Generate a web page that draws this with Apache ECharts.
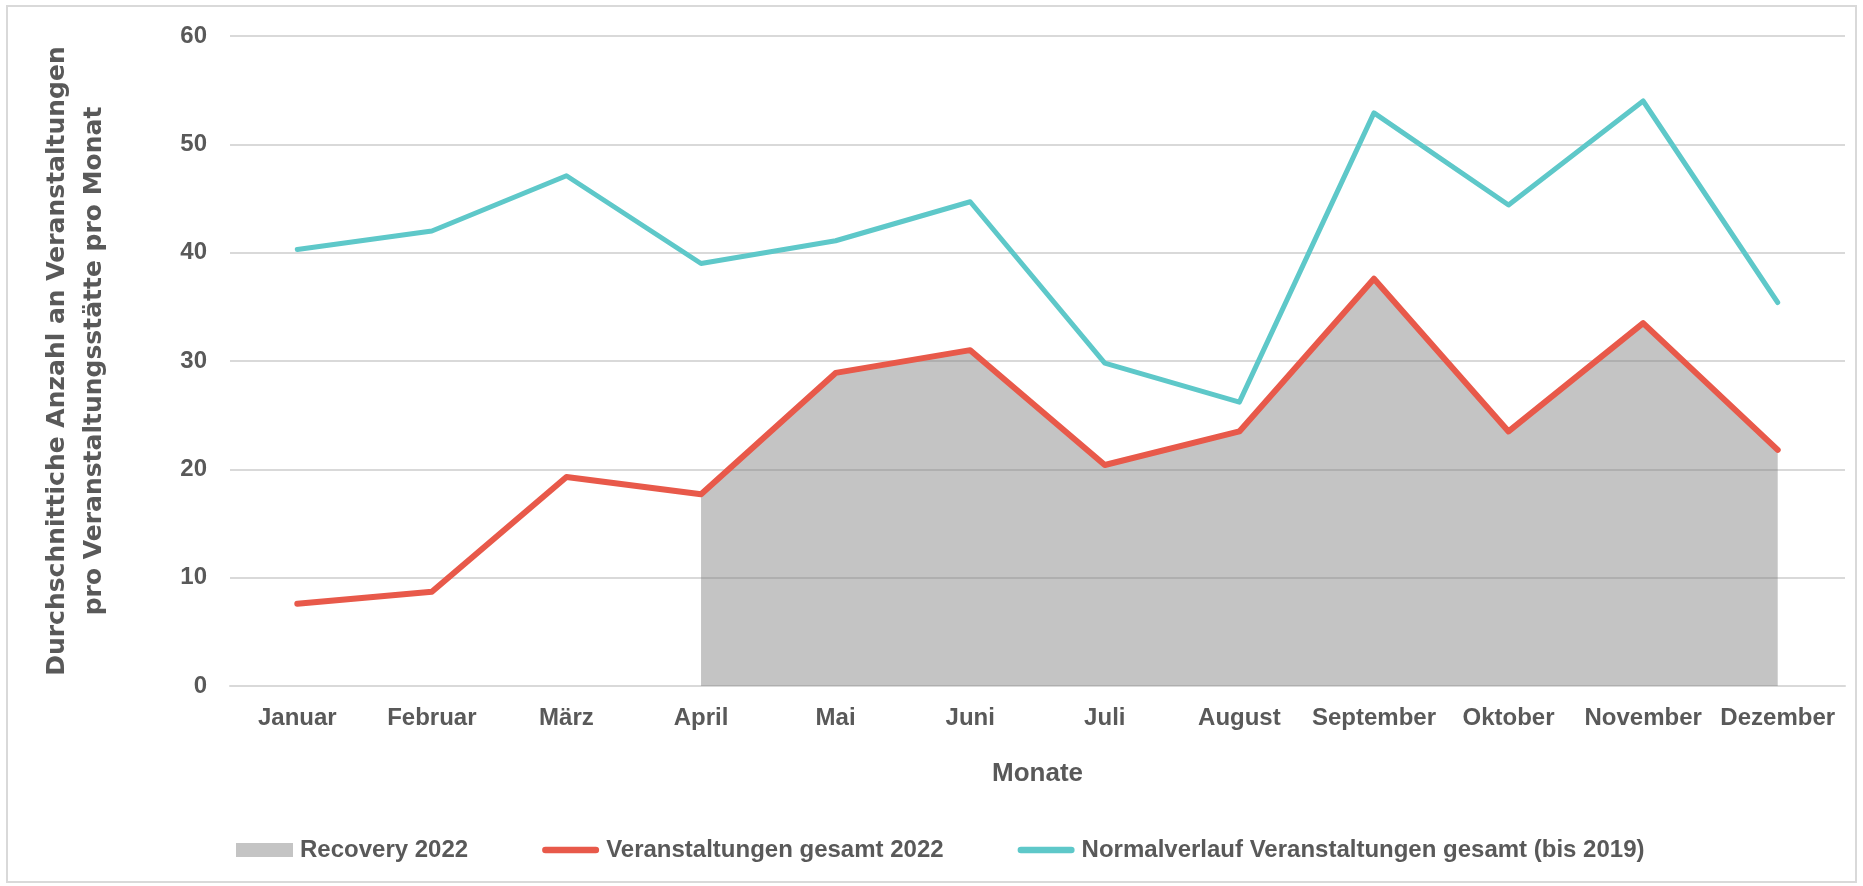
<!DOCTYPE html>
<html>
<head>
	<meta http-equiv="Content-Type" content="text/html;charset=utf-8">
	<title>Veranstaltungen pro Monat</title>
	<script src="https://cdn.jsdelivr.net/npm/echarts@6/dist/echarts.min.js"></script>
	<style>
	  html, body{
		margin: 0;
		padding: 0;
		background: #fff;
	  }
	  #chart{
		width: 1863px;
		height: 886px;
	  }
	</style>
</head>
<body>

<div id="chart"></div>

<script>
	// Monate (Kategorien)
	var months = ['Januar', 'Februar', 'März', 'April', 'Mai', 'Juni', 'Juli', 'August', 'September', 'Oktober', 'November', 'Dezember'];

	// Veranstaltungen gesamt 2022
	var total2022 = [7.6, 8.7, 19.3, 17.7, 28.9, 31.0, 20.4, 23.5, 37.6, 23.5, 33.5, 21.8];

	// Recovery 2022 (erst ab April)
	var recovery2022 = [null, null, null, 17.7, 28.9, 31.0, 20.4, 23.5, 37.6, 23.5, 33.5, 21.8];

	// Normalverlauf bis 2019
	var normal2019 = [40.3, 42.0, 47.1, 39.0, 41.1, 44.7, 29.8, 26.2, 52.9, 44.4, 54.0, 35.4];

	var yTicks = [0, 10, 20, 30, 40, 50, 60];

	var seriesNames = ['Recovery 2022', 'Veranstaltungen gesamt 2022', 'Normalverlauf Veranstaltungen gesamt (bis 2019)'];

	var textColor = '#595959';
	var font = '"Liberation Sans", Arial, sans-serif';

	// dicke Linie mit runden Enden fuer die Legende
	var lineIcon = 'path://M3.5,0 H56.5 A3.5,3.5 0 0 1 56.5,7 H3.5 A3.5,3.5 0 0 1 3.5,0 Z';

	var option = {
		animation: false,
		grid: {
			left: 230,
			right: 18,
			top: 36,
			bottom: 200,
			containLabel: false
		},
		graphic: [
			{
				type: 'rect',
				shape: { x: 7, y: 6, width: 1849, height: 876 },
				style: { fill: 'none', stroke: '#d9d9d9', lineWidth: 2 },
				silent: true
			}
		],
		legend: {
			left: 231,
			top: 833,
			itemWidth: 57,
			itemHeight: 14,
			itemGap: 74,
			symbolKeepAspect: true,
			textStyle: {
				color: textColor,
				fontFamily: font,
				fontWeight: 'bold',
				fontSize: 24,
				padding: [0, 0, 0, 2]
			},
			data: [
				{ name: seriesNames[0], icon: 'rect', itemStyle: { color: '#c4c4c4' } },
				{ name: seriesNames[1], icon: lineIcon, itemStyle: { color: '#e8594a' } },
				{ name: seriesNames[2], icon: lineIcon, itemStyle: { color: '#5ec8c9' } }
			]
		},
		xAxis: {
			type: 'category',
			data: months,
			boundaryGap: true,
			name: 'Monate',
			nameLocation: 'middle',
			nameGap: 75,
			nameTextStyle: {
				color: textColor,
				fontFamily: font,
				fontWeight: 'bold',
				fontSize: 26
			},
			axisLine: { show: true, lineStyle: { color: '#d9d9d9', width: 2 } },
			axisTick: { show: false },
			axisLabel: {
				color: textColor,
				fontFamily: font,
				fontWeight: 'bold',
				fontSize: 24,
				margin: 20,
				interval: 0
			}
		},
		yAxis: {
			type: 'value',
			min: yTicks[0],
			max: yTicks[yTicks.length - 1],
			interval: 10,
			name: 'Durchschnittiche Anzahl an Veranstaltungen\npro Veranstaltungsstätte pro Monat',
			nameLocation: 'middle',
			nameGap: 117,
			nameTextStyle: {
				color: textColor,
				fontFamily: '"DejaVu Sans", sans-serif',
				fontWeight: 'bold',
				fontSize: 25,
				lineHeight: 37
			},
			axisLine: { show: false },
			axisTick: { show: false },
			splitLine: { lineStyle: { color: '#d9d9d9', width: 2 } },
			axisLabel: {
				color: textColor,
				fontFamily: font,
				fontWeight: 'bold',
				fontSize: 24,
				margin: 23
			}
		},
		series: [
			{
				name: seriesNames[0],
				type: 'line',
				data: recovery2022,
				symbol: 'none',
				lineStyle: { width: 0 },
				itemStyle: { color: '#c4c4c4' },
				areaStyle: { color: 'rgba(127,127,127,0.46)', opacity: 1 },
				z: 1
			},
			{
				name: seriesNames[1],
				type: 'line',
				data: total2022,
				symbol: 'none',
				itemStyle: { color: '#e8594a' },
				lineStyle: { color: '#e8594a', width: 6, cap: 'round', join: 'round' },
				z: 3
			},
			{
				name: seriesNames[2],
				type: 'line',
				data: normal2019,
				symbol: 'none',
				itemStyle: { color: '#5ec8c9' },
				lineStyle: { color: '#5ec8c9', width: 5, cap: 'round', join: 'round' },
				z: 2
			}
		]
	};

	// Diagramm zeichnen
	var myChart = echarts.init(document.getElementById('chart'));
	myChart.setOption(option);
</script>
</body>
</html>
